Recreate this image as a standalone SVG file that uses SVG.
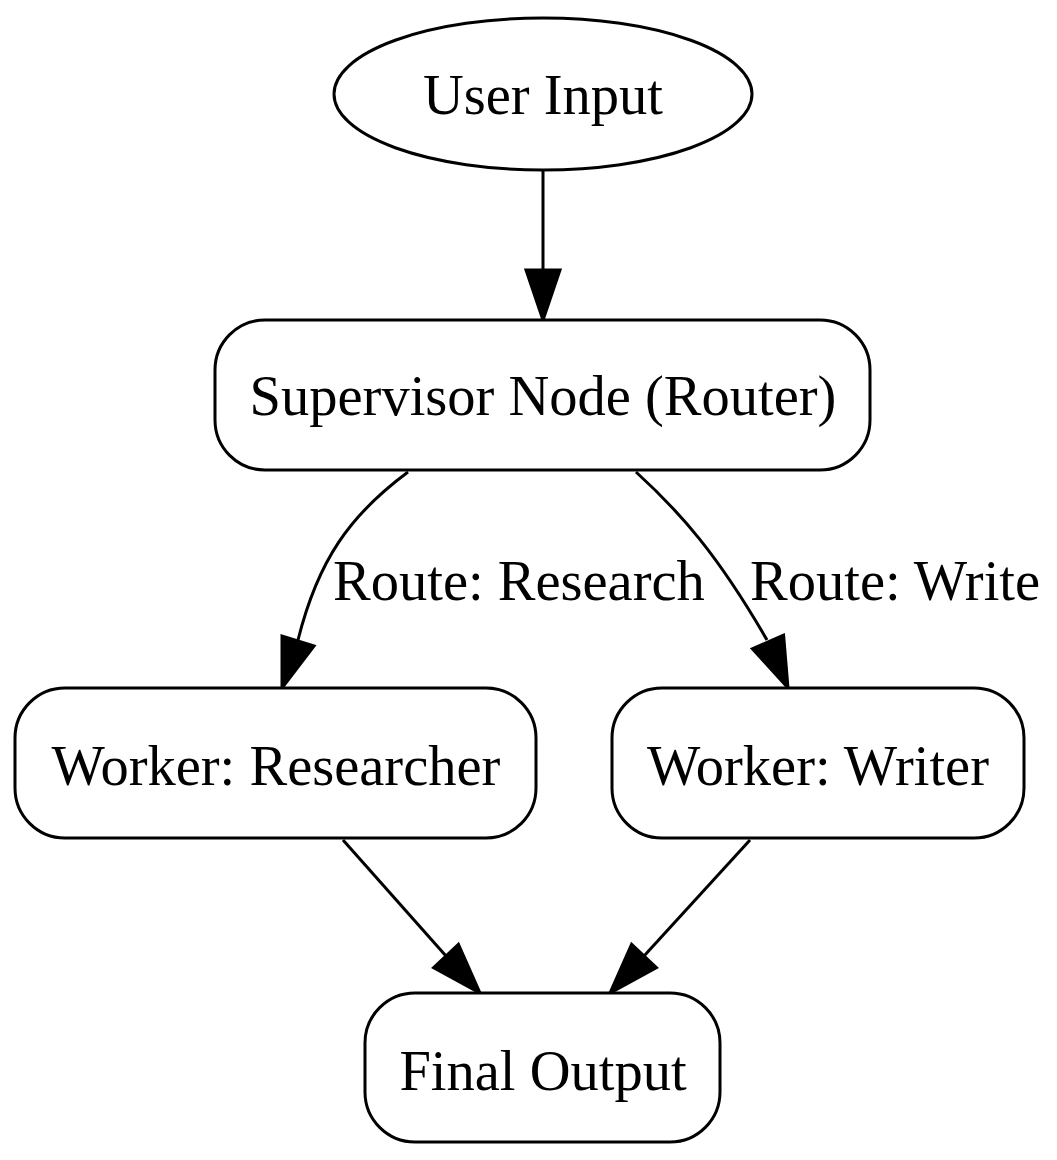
<svg xmlns="http://www.w3.org/2000/svg" width="1057" height="1160" viewBox="0 0 1057 1160">
<style>
.n{fill:#fff;stroke:#000;stroke-width:3}
.t{font-family:"Liberation Serif",serif;font-size:56.5px;text-anchor:middle;fill:#000}
.l{font-family:"Liberation Serif",serif;font-size:56.5px;fill:#000}
.e{fill:none;stroke:#000;stroke-width:3}
.a{fill:#000;stroke:#000;stroke-width:3}
</style>
<rect width="1057" height="1160" fill="#fff"/>
<g id="connectors">
<path class="e" d="M543,170 L543,270"/><polygon class="a" points="526,270 560,270 543,320"/>
<path class="e" d="M408,472 C350,515 318,560 298,640"/><polygon class="a" points="314,646 282,636 282,688"/>
<text class="l" x="333" y="600">Route: Research</text>
<path class="e" d="M636,472 C680,512 718,555 767,640"/><polygon class="a" points="783.6,635.2 752.4,648.8 788,688"/>
<text class="l" x="750" y="600">Route: Write</text>
<path class="e" d="M343,840 L446,956"/><polygon class="a" points="458.4,944.4 433.6,967.6 480,993"/>
<path class="e" d="M750,840 L644,956"/><polygon class="a" points="656.4,967.6 631.6,944.4 610,993"/>
</g>
<g id="user"><ellipse class="n" cx="543" cy="94" rx="209" ry="76"/><text class="t" x="543" y="114">User Input</text></g>
<g id="supervisor"><rect class="n" x="215" y="320" width="655" height="150" rx="50"/><text class="t" x="543" y="415">Supervisor Node (Router)</text></g>
<g id="researcher"><rect class="n" x="15" y="688" width="521" height="150" rx="50"/><text class="t" x="276" y="785">Worker: Researcher</text></g>
<g id="writer"><rect class="n" x="612" y="688" width="412" height="150" rx="50"/><text class="t" x="818" y="785">Worker: Writer</text></g>
<g id="final"><rect class="n" x="365" y="993" width="355" height="149" rx="50"/><text class="t" x="543" y="1090">Final Output</text></g>
</svg>
